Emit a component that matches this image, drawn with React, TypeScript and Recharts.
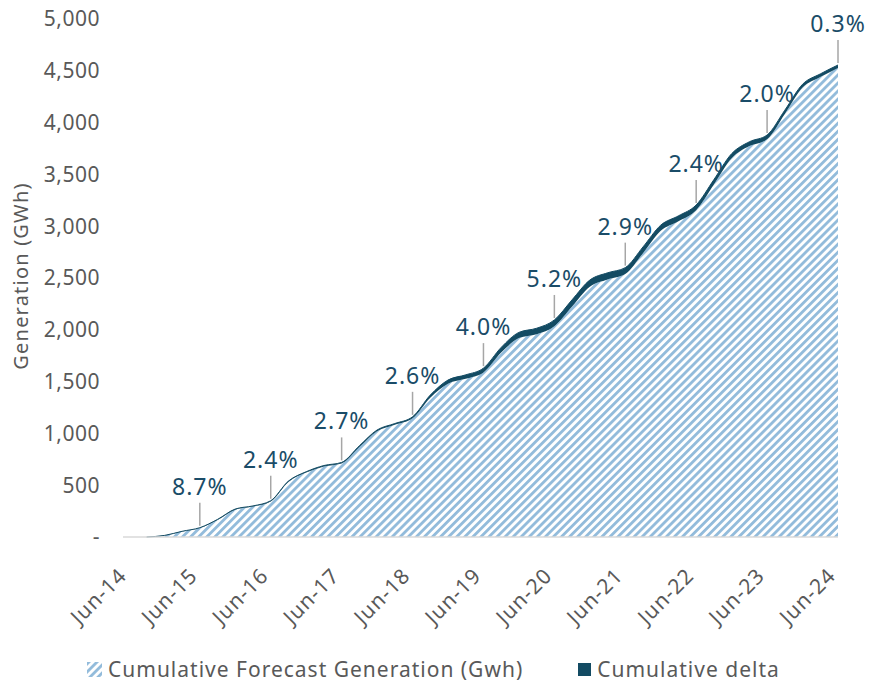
import React from 'react';
import {
  ComposedChart,
  Area,
  XAxis,
  YAxis,
  ReferenceDot,
} from 'recharts';

// Months since Jun-14, quarterly samples
const months = [
  3, 6, 9, 12, 15, 18, 21, 24, 27, 30, 33, 36, 39, 42, 45, 48, 51, 54, 57, 60,
  63, 66, 69, 72, 75, 78, 81, 84, 87, 90, 93, 96, 99, 102, 105, 108, 111, 114, 117, 120,
];

// Cumulative forecast generation (GWh)
const forecastGwh = [
  0, 13, 52, 86, 165, 264, 294, 343, 532, 622, 681, 710, 868, 1021, 1083, 1146, 1345, 1480, 1527, 1588,
  1780, 1920, 1958, 2035, 2225, 2415, 2485, 2538, 2740, 2955, 3048, 3155, 3402, 3655, 3773, 3840, 4084, 4338, 4440, 4528,
];

// Cumulative delta on top of the forecast (GWh)
const deltaGwh = [
  0, 2, 3, 4, 5, 6, 6, 7, 8, 8, 9, 10, 12, 12, 12, 14, 25, 35, 38, 42,
  50, 55, 57, 60, 65, 65, 65, 62, 60, 55, 52, 50, 48, 45, 42, 40, 36, 32, 30, 28,
];

const yearLabels = ['Jun-14', 'Jun-15', 'Jun-16', 'Jun-17', 'Jun-18', 'Jun-19', 'Jun-20', 'Jun-21', 'Jun-22', 'Jun-23', 'Jun-24'];
const yearMonths = [0, 12, 24, 36, 48, 60, 72, 84, 96, 108, 120];

// Annual delta percentages, labelled at Jun-15 … Jun-24
const deltaPct = ['8.7%', '2.4%', '2.7%', '2.6%', '4.0%', '5.2%', '2.9%', '2.4%', '2.0%', '0.3%'];

const yTicks = [0, 500, 1000, 1500, 2000, 2500, 3000, 3500, 4000, 4500, 5000];

const data = months.map((m, i) => ({ m, forecast: forecastGwh[i], delta: deltaGwh[i] }));

const annotations = deltaPct.map((pct, i) => {
  const m = yearMonths[i + 1];
  const idx = months.indexOf(m);
  return { m, total: forecastGwh[idx] + deltaGwh[idx], pct };
});

const FONT = '"Noto Sans", sans-serif';
const AXIS_GREY = '#595959';
const DARK = '#134B63';
const LABEL = '#1A4C68';
const STRIPE = '#92BBDB';

const XTick = (props: any) => {
  const { x, y, payload } = props;
  const i = yearMonths.indexOf(payload.value);
  const tx = x - 1;
  const ty = y + 32;
  return (
    <text
      x={tx}
      y={ty}
      transform={`rotate(-45, ${tx}, ${ty})`}
      textAnchor="end"
      fill={AXIS_GREY}
      fontSize={21}
      letterSpacing={1}
      fontFamily={FONT}
    >
      {yearLabels[i]}
    </text>
  );
};

const YTick = (props: any) => {
  const { y, payload } = props;
  const v = payload.value as number;
  return (
    <text x={100} y={y} dy="0.35em" textAnchor="end" fill={AXIS_GREY} fontSize={21} letterSpacing={0.5} fontFamily={FONT}>
      {v === 0 ? '-' : v.toLocaleString('en-US')}
    </text>
  );
};

const YTitle = () => (
  <text
    x={20}
    y={276}
    transform="rotate(-90, 20, 276)"
    textAnchor="middle"
    dominantBaseline="central"
    fill={AXIS_GREY}
    fontSize={20}
    letterSpacing={1.2}
    fontFamily={FONT}
  >
    Generation (GWh)
  </text>
);

const Callout = (pct: string) => (props: any) => {
  const { cx, cy } = props;
  return (
    <g>
      <line x1={cx} y1={cy - 2} x2={cx} y2={cy - 25} stroke="#A6A6A6" strokeWidth={1.5} />
      <text x={cx} y={cy - 33} textAnchor="middle" fill={LABEL} fontSize={23} letterSpacing={1} fontFamily={FONT}>
        {pct}
      </text>
    </g>
  );
};

const HatchSwatch = () => (
  <svg width={15} height={15} style={{ display: 'block' }}>
    <defs>
      <pattern id="hatchIcon" patternUnits="userSpaceOnUse" width={5.7} height={5.7} patternTransform="rotate(45)">
        <rect width={5.7} height={5.7} fill="#fff" />
        <rect width={2.8} height={5.7} fill={STRIPE} />
      </pattern>
    </defs>
    <rect width={15} height={15} fill="url(#hatchIcon)" />
  </svg>
);

export default function App() {
  return (
    <div style={{ position: 'absolute', left: 0, top: 0, width: 869, height: 682, background: '#fff', fontFamily: FONT, overflow: 'hidden' }}>
      <ComposedChart width={869} height={682} data={data} margin={{ top: 19, right: 31, bottom: 115, left: 0 }}>
        <defs>
          <pattern id="hatch" patternUnits="userSpaceOnUse" width={5.7} height={5.7} patternTransform="rotate(45)">
            <rect width={5.7} height={5.7} fill="#fff" />
            <rect width={2.8} height={5.7} fill={STRIPE} />
          </pattern>
        </defs>
        <XAxis
          dataKey="m"
          type="number"
          domain={[-1, 120]}
          ticks={yearMonths}
          interval={0}
          tick={<XTick />}
          tickLine={false}
          axisLine={{ stroke: '#D9D9D9', strokeWidth: 1.5 }}
          height={30}
        />
        <YAxis
          type="number"
          domain={[0, 5000]}
          ticks={yTicks}
          interval={0}
          tick={<YTick />}
          tickLine={false}
          axisLine={false}
          width={123}
          label={{ content: () => <YTitle /> }}
        />
        <Area
          type="monotone"
          dataKey="forecast"
          stackId="a"
          fill="url(#hatch)"
          fillOpacity={1}
          stroke="none"
          isAnimationActive={false}
        />
        <Area
          type="monotone"
          dataKey="delta"
          stackId="a"
          fill={DARK}
          fillOpacity={1}
          stroke={DARK}
          strokeWidth={1}
          isAnimationActive={false}
        />
        {annotations.map((a) => (
          <ReferenceDot key={a.m} x={a.m} y={a.total} r={0} ifOverflow="visible" shape={Callout(a.pct)} />
        ))}
      </ComposedChart>
      <div
        style={{
          position: 'absolute',
          top: 658,
          left: 87,
          height: 22,
          display: 'flex',
          alignItems: 'center',
          fontSize: 21,
          letterSpacing: 1,
          color: AXIS_GREY,
          lineHeight: '22px',
          whiteSpace: 'nowrap',
        }}
      >
        <HatchSwatch />
        <span style={{ marginLeft: 6 }}>Cumulative Forecast Generation (Gwh)</span>
        <span style={{ display: 'inline-block', width: 13, height: 13, background: DARK, marginLeft: 55 }} />
        <span style={{ marginLeft: 6 }}>Cumulative delta</span>
      </div>
    </div>
  );
}
